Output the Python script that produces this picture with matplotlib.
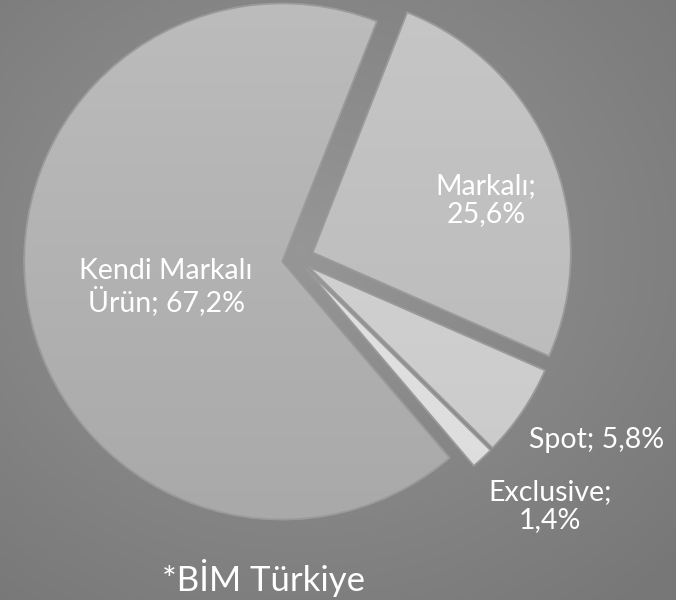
import numpy as np
import matplotlib
matplotlib.use('Agg')
import matplotlib.pyplot as plt

# ----------------------------------------------------------------------------
# Data
# ----------------------------------------------------------------------------
labels = ['Markalı', 'Spot', 'Exclusive', 'Kendi Markalı Ürün']
values = [25.6, 5.8, 1.4, 67.2]
label_texts = ['Markalı;\n25,6%', 'Spot; 5,8%', 'Exclusive;\n1,4%',
               'Kendi Markalı\nÜrün; 67,2%']
footnote = '*BİM Türkiye'

# ----------------------------------------------------------------------------
# Styling / layout (pixel units, origin at pie centre, y up)
# ----------------------------------------------------------------------------
W, H = 676, 600
cx, cy = 297, 259               # pie centre in image pixels (y down)
radius = 258
explode = [17, 14, 14, 15]      # pixels (pie offsets are in data units)
top_colors = ['#c6c6c6', '#d6d6d6', '#e4e4e4', '#bcbcbc']
bot_colors = ['#b6b6b6', '#c8c8c8', '#dcdcdc', '#a6a6a6']
label_pos = [(486, 200), (597, 440), (550, 506), (166, 287)]   # image px
font = ['Lato', 'DejaVu Sans']

fig = plt.figure(figsize=(W / 100, H / 100), dpi=100)
ax = fig.add_axes([0, 0, 1, 1])

# radial gradient background
yy, xx = np.mgrid[0:H, 0:W]
d = np.hypot((xx - 300) / W, (yy - 250) / H)
bg = 0.59 - 0.12 * np.clip(d / 0.75, 0, 1)
ax.imshow(np.dstack([bg, bg, bg]), extent=(-cx, W - cx, -(H - cy), cy),
          zorder=0, aspect='auto')

wedges, _ = ax.pie(values, explode=explode, startangle=68.5,
                   counterclock=False, radius=radius, center=(0, 0),
                   colors=top_colors, frame=True,
                   wedgeprops=dict(edgecolor='#9a9a9a', linewidth=1.2))
ax.set_xlim(-cx, W - cx)
ax.set_ylim(-(H - cy), cy)
ax.set_aspect('auto')
ax.axis('off')

# vertical gradient inside each wedge
grad = np.linspace(0, 1, 256).reshape(-1, 1)
for w, c0, c1 in zip(wedges, top_colors, bot_colors):
    w.set_zorder(2)
    a = np.array(matplotlib.colors.to_rgb(c0))
    b = np.array(matplotlib.colors.to_rgb(c1))
    img = a[None, None, :] * (1 - grad[:, :, None]) + b[None, None, :] * grad[:, :, None]
    im = ax.imshow(img, extent=(-cx, W - cx, -(H - cy), cy), zorder=2.5,
                   aspect='auto')
    im.set_clip_path(w)
    edge = matplotlib.patches.Wedge(w.center, w.r, w.theta1, w.theta2,
                                    fill=False, edgecolor='#9a9a9a',
                                    linewidth=1.2, zorder=3)
    ax.add_patch(edge)

for txt, (px, py) in zip(label_texts, label_pos):
    ax.text(px - cx, cy - py, txt, color='white', fontsize=20.5,
            family=font, ha='center', va='center', linespacing=1.1,
            zorder=5)

ax.text(263 - cx, cy - 578, footnote, color='white', fontsize=25,
        family=font, ha='center', va='center', zorder=5)

fig.savefig('out.png', dpi=100)
